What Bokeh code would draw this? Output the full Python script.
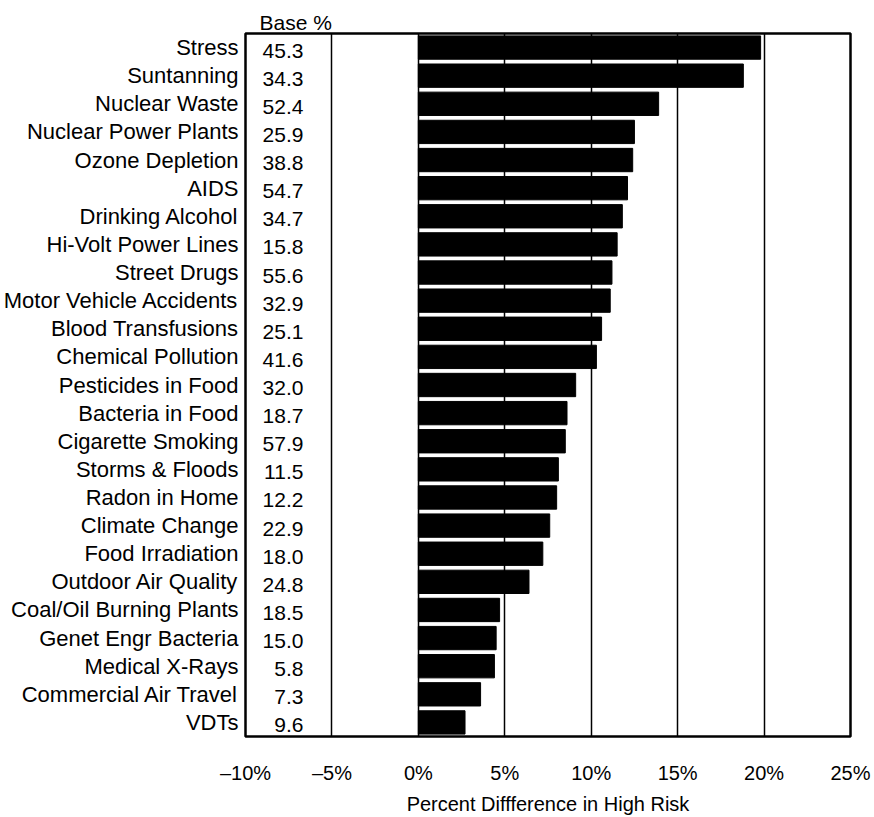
from bokeh.plotting import figure
from bokeh.models import FactorRange, Range1d, FixedTicker, ColumnDataSource
from bokeh.embed import file_html
from bokeh.resources import INLINE
from bokeh.core.properties import value

risks = ["Stress", "Suntanning", "Nuclear Waste", "Nuclear Power Plants",
         "Ozone Depletion", "AIDS", "Drinking Alcohol", "Hi-Volt Power Lines",
         "Street Drugs", "Motor Vehicle Accidents", "Blood Transfusions",
         "Chemical Pollution", "Pesticides in Food", "Bacteria in Food",
         "Cigarette Smoking", "Storms & Floods", "Radon in Home",
         "Climate Change", "Food Irradiation", "Outdoor Air Quality",
         "Coal/Oil Burning Plants", "Genet Engr Bacteria", "Medical X-Rays",
         "Commercial Air Travel", "VDTs"]
diff_pct = [19.8, 18.8, 13.9, 12.5, 12.4, 12.1, 11.8, 11.5, 11.2, 11.1,
            10.6, 10.3, 9.1, 8.6, 8.5, 8.1, 8.0, 7.6, 7.2, 6.4,
            4.7, 4.5, 4.4, 3.6, 2.7]
base_pct = [45.3, 34.3, 52.4, 25.9, 38.8, 54.7, 34.7, 15.8, 55.6, 32.9,
            25.1, 41.6, 32.0, 18.7, 57.9, 11.5, 12.2, 22.9, 18.0, 24.8,
            18.5, 15.0, 5.8, 7.3, 9.6]
x_ticks = [-10, -5, 0, 5, 10, 15, 20, 25]
x_tick_labels = ["\u201310%", "\u20135%", "0%", "5%", "10%", "15%", "20%", "25%"]
grid_ticks = [-5, 0, 5, 10, 15, 20]
base_header = "Base %"
x_title = "Percent Diffference in High Risk"

FONT = "Liberation Sans"

src = ColumnDataSource(dict(
    risk=risks,
    diff=diff_pct,
    base_txt=["%.1f" % b for b in base_pct],
))

p = figure(y_range=FactorRange(factors=risks[::-1], range_padding=0),
           x_range=Range1d(-10, 25),
           width=874, height=817,
           output_backend="svg", toolbar_location=None,
           min_border_left=245, min_border_right=24,
           min_border_top=33, min_border_bottom=80,
           title=base_header)

p.title.align = "left"
p.title.offset = 14
p.title.standoff = 0
p.title.text_font = FONT
p.title.text_font_size = "21px"
p.title.text_font_style = "normal"
p.title.text_color = "black"

p.hbar(y="risk", left=0, right="diff", height=0.83, source=src,
       fill_color="black", line_color="black")

p.text(x=-6.65, y="risk", text="base_txt", source=src,
       text_align="right", text_baseline="middle", y_offset=3,
       text_font=value(FONT), text_font_size="21px", text_color="black")

p.xgrid.ticker = FixedTicker(ticks=grid_ticks)
p.xgrid.grid_line_color = "black"
p.xgrid.grid_line_width = 1.5
p.ygrid.grid_line_color = None

p.outline_line_color = "black"
p.outline_line_width = 2.5
p.outline_line_alpha = 1.0

xa = p.xaxis[0]
xa.ticker = FixedTicker(ticks=x_ticks)
xa.major_label_overrides = {t: l for t, l in zip(x_ticks, x_tick_labels)}
xa.axis_line_color = None
xa.major_tick_line_color = None
xa.minor_tick_line_color = None
xa.major_label_standoff = 19
xa.major_label_text_font = FONT
xa.major_label_text_font_size = "20px"
xa.major_label_text_color = "black"
xa.axis_label = x_title
xa.axis_label_text_font = FONT
xa.axis_label_text_font_size = "20px"
xa.axis_label_text_font_style = "normal"
xa.axis_label_text_color = "black"
xa.axis_label_standoff = 6

ya = p.yaxis[0]
ya.axis_line_color = None
ya.major_tick_line_color = None
ya.minor_tick_line_color = None
ya.major_label_standoff = 1
ya.major_label_text_font = FONT
ya.major_label_text_font_size = "22px"
ya.major_label_text_color = "black"

open("out.html", "w").write(file_html(p, INLINE))
